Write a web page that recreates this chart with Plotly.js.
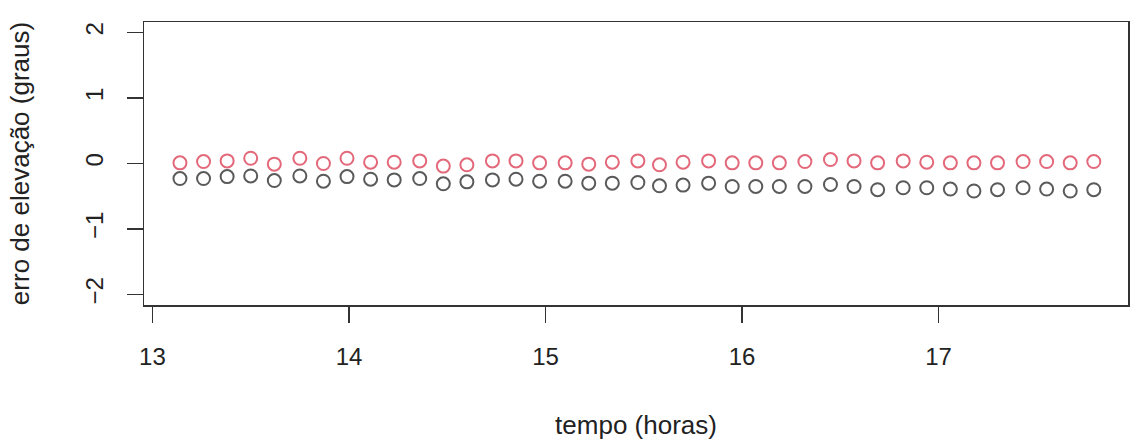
<!DOCTYPE html>
<html>
<head>
<meta charset="utf-8">
<script src="https://cdn.plot.ly/plotly-3.0.1.min.js"></script>
<style>
html,body{margin:0;padding:0;background:#fff;}
#chart{width:1132px;height:446px;}
</style>
</head>
<body>
<div id="chart"></div>
<script>
// tempo (horas)
var tempo = [13.14, 13.26, 13.38, 13.50, 13.62, 13.75, 13.87, 13.99, 14.11, 14.23,
             14.36, 14.48, 14.60, 14.73, 14.85, 14.97, 15.10, 15.22, 15.34, 15.47,
             15.58, 15.70, 15.83, 15.95, 16.07, 16.19, 16.32, 16.45, 16.57, 16.69,
             16.82, 16.94, 17.06, 17.18, 17.30, 17.43, 17.55, 17.67, 17.79];
// erro de elevação (graus) — série vermelha
var erroVermelho = [0.01, 0.03, 0.04, 0.08, -0.01, 0.08, 0.00, 0.08, 0.02, 0.02,
                    0.04, -0.04, -0.02, 0.04, 0.04, 0.01, 0.01, -0.01, 0.02, 0.04,
                    -0.02, 0.02, 0.04, 0.01, 0.01, 0.01, 0.03, 0.06, 0.04, 0.01,
                    0.04, 0.02, 0.01, 0.01, 0.01, 0.03, 0.03, 0.01, 0.03];
// erro de elevação (graus) — série preta
var erroPreto = [-0.23, -0.23, -0.20, -0.19, -0.26, -0.19, -0.27, -0.20, -0.24, -0.25,
                 -0.23, -0.31, -0.28, -0.25, -0.24, -0.27, -0.27, -0.30, -0.30, -0.29,
                 -0.34, -0.33, -0.30, -0.35, -0.35, -0.35, -0.35, -0.32, -0.35, -0.40,
                 -0.37, -0.37, -0.39, -0.42, -0.40, -0.37, -0.39, -0.42, -0.40];
var xTicks = [13, 14, 15, 16, 17];
var yTicks = [-2, -1, 0, 1, 2];

var fontFam = 'Liberation Sans, Arial, sans-serif';
var traces = [
  {x: tempo, y: erroVermelho, type: 'scatter', mode: 'markers', name: 'vermelho',
   marker: {symbol: 'circle-open', size: 13, color: '#e3687a', line: {width: 2, color: '#e3687a'}}},
  {x: tempo, y: erroPreto, type: 'scatter', mode: 'markers', name: 'preto',
   marker: {symbol: 'circle-open', size: 13, color: '#5a5a5a', line: {width: 2, color: '#5a5a5a'}}}
];
var layout = {
  width: 1132, height: 446,
  margin: {l: 144, r: 4, t: 22, b: 141},
  paper_bgcolor: '#fff', plot_bgcolor: '#fff',
  showlegend: false,
  font: {family: fontFam, size: 24, color: '#222'},
  xaxis: {
    range: [12.957, 17.964], tickvals: xTicks, ticktext: xTicks.map(String),
    showgrid: false, zeroline: false, showline: true, mirror: true,
    linecolor: '#333', linewidth: 1.5, ticks: 'outside', ticklen: 16, tickwidth: 1.5,
    tickcolor: '#333', ticklabelstandoff: 14, automargin: false,
    tickfont: {family: fontFam, size: 24, color: '#222'},
    title: {text: 'tempo (horas)', standoff: 46, font: {family: fontFam, size: 26, color: '#222'}}
  },
  yaxis: {
    range: [-2.16, 2.16], tickvals: yTicks, ticktext: yTicks.map(function(v){return v < 0 ? '\u2212' + Math.abs(v) : String(v);}),
    tickangle: -90,
    showgrid: false, zeroline: false, showline: true, mirror: true,
    linecolor: '#333', linewidth: 1.5, ticks: 'outside', ticklen: 16, tickwidth: 1.5,
    tickcolor: '#333', ticklabelstandoff: 14, automargin: false,
    tickfont: {family: fontFam, size: 24, color: '#222'},
    title: {text: 'erro de elevação (graus)', standoff: 44, font: {family: fontFam, size: 26, color: '#222'}}
  }
};
Plotly.newPlot('chart', traces, layout, {displayModeBar: false, staticPlot: true});
</script>
</body>
</html>
